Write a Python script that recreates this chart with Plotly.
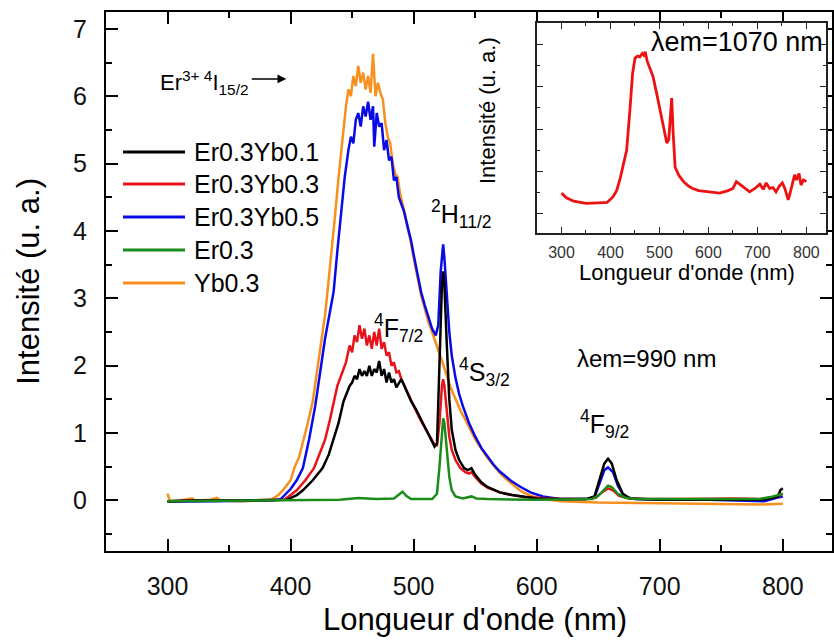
import plotly.graph_objects as go

# ---------------- data ----------------
series_names = ["Er0.3Yb0.1", "Er0.3Yb0.3", "Er0.3Yb0.5", "Er0.3", "Yb0.3"]
series_colors = ["#000000", "#e8141c", "#0a0ae6", "#1a8c1a", "#f7901e"]

er03yb01 = [(300,-0.01),(320,0.0),(350,0.0),(380,0.0),(397,0.01),(405,0.08),(410,0.15),(418,0.3),(426,0.48),
            (431,0.68),(435,0.9),(439,1.15),(443,1.47),(446,1.6),(448,1.7),(450,1.75),(452,1.85),(454,1.8),
            (456,1.95),(458,1.85),(460,1.92),(462,1.85),(464,2.0),(466,1.85),(468,1.95),(470,1.9),(472,2.07),
            (474,1.85),(476,1.95),(478,1.75),(480,1.9),(482,1.75),(484,1.8),(486,1.68),(488,1.75),(490,1.8),
            (492,1.72),(495,1.6),(498,1.47),(502,1.35),(506,1.2),(510,1.05),(514,0.92),(517,0.8),(519,0.85),
            (521,1.9),(523,3.2),(524,3.4),(525,3.2),(527,2.3),(529,1.5),(531,1.05),(534,0.75),(537,0.6),
            (541,0.48),(544,0.45),(547,0.48),(550,0.38),(555,0.27),(560,0.2),(570,0.12),(580,0.08),(590,0.05),
            (600,0.03),(620,0.02),(640,0.02),(647,0.06),(651,0.3),(655,0.55),(658,0.62),(661,0.55),(665,0.3),
            (670,0.1),(676,0.03),(685,0.02),(700,0.01),(720,0.01),(740,0.01),(760,0.0),(780,0.01),(790,0.03),
            (796,0.06),(798,0.15),(800,0.18)]

er03yb03 = [(300,-0.01),(320,0.0),(350,0.0),(380,0.0),(395,0.01),(405,0.15),(412,0.3),(419,0.48),(424,0.7),
            (428,0.9),(432,1.2),(435,1.47),(438,1.7),(442,1.9),(445,2.05),(448,2.3),(450,2.2),(452,2.45),
            (454,2.35),(456,2.6),(458,2.4),(460,2.55),(462,2.3),(464,2.45),(466,2.25),(468,2.5),(470,2.3),
            (472,2.55),(474,2.25),(476,2.35),(478,2.15),(480,2.2),(482,2.0),(484,2.05),(486,1.9),(488,1.92),
            (490,1.8),(492,1.72),(495,1.6),(498,1.47),(502,1.33),(506,1.18),(510,1.05),(514,0.93),(517,0.83),
            (519,0.82),(521,1.15),(523,1.7),(524,1.8),(525,1.7),(527,1.3),(529,0.95),(531,0.75),(534,0.6),
            (538,0.48),(542,0.42),(545,0.4),(547,0.42),(550,0.35),(555,0.25),(560,0.19),(570,0.12),(580,0.08),
            (590,0.05),(600,0.04),(620,0.02),(640,0.02),(648,0.04),(653,0.12),(658,0.18),(662,0.15),(667,0.07),
            (675,0.03),(690,0.02),(720,0.02),(760,0.03),(780,0.02),(795,0.05),(800,0.1)]

er03yb05 = [(300,-0.02),(330,-0.01),(360,-0.01),(385,0.0),(392,0.02),(400,0.17),(405,0.3),(410,0.48),(415,0.9),
            (420,1.4),(424,1.9),(428,2.4),(432,2.8),(435,3.1),(438,3.7),(441,4.25),(444,4.8),(447,5.2),(449,5.4),
            (451,5.3),(453,5.65),(455,5.75),(457,5.55),(459,5.85),(461,5.7),(463,5.92),(465,5.65),(467,5.85),
            (468,5.25),(470,5.75),(472,5.55),(474,5.6),(476,5.2),(478,5.35),(480,5.05),(482,5.1),(484,4.75),
            (486,4.8),(488,4.5),(490,4.4),(492,4.3),(494,4.15),(496,4.0),(498,3.85),(500,3.65),(503,3.35),
            (506,3.1),(509,2.9),(512,2.72),(515,2.55),(518,2.45),(520,2.6),(522,3.4),(524,3.8),(525,3.6),
            (527,3.0),(529,2.5),(531,2.15),(534,1.82),(537,1.58),(540,1.4),(545,1.15),(550,0.95),(555,0.78),
            (560,0.65),(565,0.53),(570,0.43),(580,0.28),(587,0.2),(595,0.12),(605,0.06),(620,0.02),(640,0.02),
            (647,0.05),(652,0.3),(655,0.45),(658,0.49),(662,0.42),(666,0.22),(671,0.06),(680,0.02),(700,0.01),
            (740,0.01),(770,0.0),(785,-0.01),(795,0.04),(800,0.06)]

er03 = [(300,-0.01),(350,0.0),(400,0.0),(440,0.01),(455,0.035),(470,0.02),(484,0.03),(488,0.08),(491,0.13),
        (494,0.07),(498,0.02),(515,0.02),(519,0.1),(521,0.5),(523,1.1),(524,1.22),(525,1.15),(527,0.7),
        (529,0.35),(531,0.15),(534,0.06),(540,0.03),(544,0.05),(547,0.06),(551,0.03),(560,0.02),(600,0.01),
        (645,0.02),(650,0.07),(655,0.17),(658,0.22),(661,0.2),(666,0.1),(672,0.04),(680,0.02),(720,0.02),
        (760,0.02),(780,0.02),(790,0.05),(800,0.1)]

yb03 = [(300,0.1),(302,-0.01),(310,0.0),(320,0.03),(322,0.0),(335,0.01),(340,0.04),(343,0.0),(360,-0.01),
        (375,0.0),(384,0.01),(390,0.08),(395,0.18),(400,0.3),(403,0.48),(407,0.65),(410,0.85),(414,1.15),
        (418,1.47),(421,1.85),(425,2.35),(428,2.75),(430,3.1),(433,3.6),(436,4.2),(439,4.8),(441,5.2),
        (443,5.5),(445,5.85),(447,6.1),(449,6.0),(451,6.3),(453,6.15),(455,6.45),(457,6.2),(459,6.35),
        (461,6.1),(463,6.3),(465,6.05),(467,6.63),(469,6.0),(471,6.2),(473,6.05),(475,5.95),(477,5.6),
        (479,5.4),(481,5.3),(483,5.0),(485,4.85),(487,4.8),(489,4.55),(491,4.4),(493,4.25),(495,4.05),
        (497,3.9),(500,3.6),(503,3.3),(506,3.05),(509,2.85),(512,2.65),(515,2.5),(518,2.35),(521,2.2),
        (524,2.02),(527,1.85),(530,1.68),(533,1.55),(536,1.42),(539,1.3),(542,1.2),(545,1.08),(548,0.98),
        (551,0.88),(555,0.76),(560,0.63),(565,0.52),(570,0.41),(575,0.32),(580,0.24),(587,0.14),(595,0.07),
        (605,0.02),(620,-0.01),(650,-0.03),(700,-0.04),(750,-0.05),(780,-0.06),(800,-0.05)]

inset_red = [(300,0.49),(310,0.38),(325,0.3),(350,0.25),(375,0.26),(393,0.27),(405,0.4),(413,0.56),(420,0.85),
             (427,1.2),(433,1.5),(440,2.5),(445,3.3),(450,3.67),(455,3.72),(460,3.7),(465,3.78),(468,3.74),
             (471,3.82),(475,3.6),(480,3.45),(487,3.23),(495,2.8),(502,2.4),(508,2.05),(515,1.67),(519,1.75),
             (522,2.3),(525,2.73),(528,1.9),(532,1.1),(540,0.9),(550,0.75),(560,0.65),(568,0.6),(580,0.55),
             (600,0.52),(623,0.49),(640,0.55),(650,0.6),(657,0.76),(665,0.68),(675,0.6),(684,0.52),(695,0.6),
             (705,0.7),(712,0.58),(718,0.73),(725,0.6),(732,0.62),(738,0.52),(745,0.66),(751,0.73),(756,0.6),
             (763,0.33),(768,0.55),(776,0.92),(780,0.8),(785,0.95),(789,0.68),(794,0.8),(800,0.76)]

x_ticks = [300, 400, 500, 600, 700, 800]
y_ticks = [0, 1, 2, 3, 4, 5, 6, 7]

FONT = "Liberation Sans, Arial, sans-serif"

fig = go.Figure()

all_series = [er03yb01, er03yb03, er03yb05, er03, yb03]
order = [4, 2, 1, 0, 3]
for i in order:
    s = all_series[i]
    fig.add_trace(go.Scatter(x=[p[0] for p in s], y=[p[1] for p in s], mode="lines",
                             name=series_names[i], line=dict(color=series_colors[i], width=2.5),
                             showlegend=False, xaxis="x", yaxis="y"))

fig.add_trace(go.Scatter(x=[p[0] for p in inset_red], y=[p[1] for p in inset_red], mode="lines",
                         line=dict(color="#ee1111", width=2.8), showlegend=False,
                         xaxis="x2", yaxis="y2"))

axis_common = dict(showline=True, linecolor="black", linewidth=2, mirror="allticks",
                   ticks="inside", ticklen=12, tickwidth=2, tickcolor="black",
                   showgrid=False, zeroline=False, automargin=False,
                   tickfont=dict(family=FONT, size=25, color="#111"))

fig.update_layout(
    width=834, height=642,
    margin=dict(l=106, r=2, t=12, b=91, autoexpand=False),
    paper_bgcolor="white", plot_bgcolor="white",
    font=dict(family=FONT, color="black"),
    xaxis=dict(range=[250, 840], tickvals=x_ticks, ticklabelstandoff=12,
               minor=dict(ticks="inside", ticklen=6, tickwidth=2, tickcolor="black", dtick=50, tick0=0),
               **axis_common),
    yaxis=dict(range=[-0.75, 7.25], tickvals=y_ticks, ticklabelstandoff=12,
               minor=dict(ticks="inside", ticklen=6, tickwidth=2, tickcolor="black", dtick=0.5, tick0=0),
               **axis_common),
    xaxis2=dict(domain=[0.5937, 0.9917], anchor="y2", range=[250, 840], tickvals=x_ticks,
                showline=True, linecolor="#222", linewidth=1.5, mirror="allticks",
                ticks="inside", ticklen=6, tickwidth=1.2, tickcolor="#222", automargin=False,
                minor=dict(ticks="inside", ticklen=3, tickwidth=1.2, tickcolor="#222", dtick=50, tick0=0),
                showgrid=False, zeroline=False, ticklabelstandoff=4,
                tickfont=dict(family=FONT, size=16, color="#333")),
    yaxis2=dict(domain=[0.59, 0.9796], anchor="x2", range=[-0.45, 4.5], dtick=1, tick0=0,
                showline=True, linecolor="#222", linewidth=1.5, mirror="allticks",
                ticks="inside", ticklen=6, tickwidth=1.2, tickcolor="#222", automargin=False,
                minor=dict(ticks="inside", ticklen=3, tickwidth=1.2, tickcolor="#222", dtick=0.5, tick0=0),
                showgrid=False, zeroline=False, showticklabels=False),
)

ann = []
ann.append(dict(text="Longueur d'onde (nm)", xref="paper", yref="paper", x=0.508, y=-0.128,
                xanchor="center", yanchor="middle", showarrow=False, font=dict(size=31)))
ann.append(dict(text="Intensité (u. a.)", xref="paper", yref="paper", x=-0.107, y=0.5,
                xanchor="center", yanchor="middle", textangle=-90, showarrow=False, font=dict(size=31)))
ann.append(dict(text="Longueur d'onde (nm)", xref="paper", yref="paper", x=0.800, y=0.5176,
                xanchor="center", yanchor="middle", showarrow=False, font=dict(size=22)))
ann.append(dict(text="Intensité (u. a.)", xref="paper", yref="paper", x=0.5248, y=0.8163,
                xanchor="center", yanchor="middle", textangle=-90, showarrow=False, font=dict(size=22)))
ann.append(dict(text="λem=1070 nm", xref="paper", yref="paper", x=0.990, y=0.944,
                xanchor="right", yanchor="middle", showarrow=False, font=dict(size=27)))
ann.append(dict(text="λem=990 nm", xref="paper", yref="paper", x=(575 - 106) / 726, y=(551 - 358) / 539,
                xanchor="left", yanchor="middle", showarrow=False, font=dict(size=24)))
levels = [("<sup>2</sup>H<sub>11/2</sub>", 539.3, 4.25),
          ("<sup>4</sup>F<sub>7/2</sub>", 487.3, 2.56),
          ("<sup>4</sup>S<sub>3/2</sub>", 557.2, 1.91),
          ("<sup>4</sup>F<sub>9/2</sub>", 655.5, 1.135)]
for t, lx, ly in levels:
    ann.append(dict(text=t, x=lx, y=ly, xref="x", yref="y", xanchor="center", yanchor="middle",
                    showarrow=False, font=dict(size=25)))
ann.append(dict(text="Er<sup>3+ 4</sup>I<sub>15/2</sub>", xref="paper", yref="paper",
                x=(158 - 106) / 726, y=(551 - 83) / 539, xanchor="left", yanchor="middle",
                showarrow=False, font=dict(size=22)))
ann.append(dict(text="", x=396.5, y=6.256, xref="x", yref="y", ax=-36, ay=0,
                showarrow=True, arrowhead=2, arrowsize=1.1, arrowwidth=1.6, arrowcolor="black"))

shapes = []
leg_y = [152, 184, 217, 250, 283]
for i, py in enumerate(leg_y):
    yp = (551 - py) / 539
    shapes.append(dict(type="line", xref="paper", yref="paper", x0=(123 - 106) / 726, x1=(185 - 106) / 726,
                       y0=yp, y1=yp, line=dict(color=series_colors[i], width=3)))
    ann.append(dict(text=series_names[i], xref="paper", yref="paper", x=(192 - 106) / 726, y=yp,
                    xanchor="left", yanchor="middle", showarrow=False, font=dict(size=25)))

fig.update_layout(annotations=ann, shapes=shapes)
fig.write_html("out.html", config={"displayModeBar": False},
               post_script="document.body.style.margin='0px';document.body.style.overflow='hidden';")
